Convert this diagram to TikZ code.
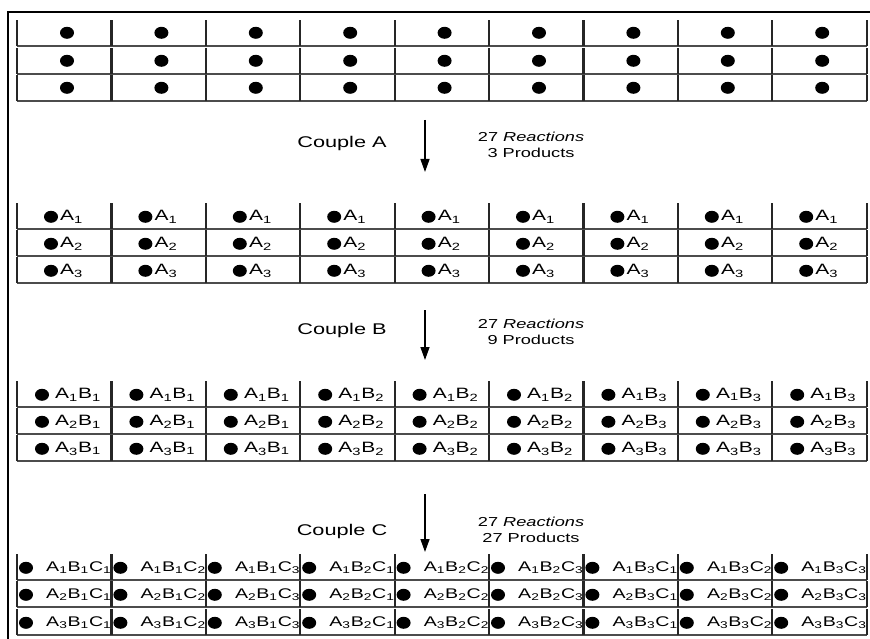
\documentclass[tikz,border=0pt]{standalone}
\usepackage{fontspec}
\usepackage{graphicx}
\setmainfont{Liberation Sans}
\usetikzlibrary{arrows.meta}
\tikzset{
  frame/.style   = {line width=2.6pt},
  cellbox/.style = {minimum width=94.4pt, minimum height=26pt, inner sep=0pt, anchor=south west},
  bar/.style     = {line width=2.2pt, black!85},
  rule/.style    = {line width=1.3pt, black!70},
  bead/.style    = {fill=black},
  lbl/.style     = {font=\fontsize{15}{17}\selectfont, inner sep=0pt, anchor=west},
  small lbl/.style = {lbl, font=\fontsize{14}{16}\selectfont},
  couple/.style  = {font=\fontsize{15.5}{18}\selectfont},
  tally/.style   = {font=\fontsize{13}{16}\selectfont, align=center},
  flow/.style    = {-{Triangle[length=13pt, width=9pt]}, line width=1.4pt},
}
\newcommand{\sub}[1]{\textsubscript{#1}}
\newcommand{\wide}[1]{\scalebox{1.4}[1]{#1}}

\begin{document}
\begin{tikzpicture}[x=1pt, y=-1pt]
    \useasboundingbox (0,0) rectangle (870,639);
    \draw[frame] (8,639) -- (8,12) -- (870,12);

    % beads
    \foreach \r/\yb in {1/46, 2/74, 3/101} {
      \foreach \c in {0,...,8} {
        \node[cellbox] (beads-\r-\c) at ({17+94.4*\c},\yb) {};
        \draw[rule] (beads-\r-\c.south west) -- (beads-\r-\c.south east);
        \draw[bar] (beads-\r-\c.south west) -- (beads-\r-\c.north west);
        \fill[bead] ([xshift=50pt]beads-\r-\c.west) ellipse [x radius=7pt, y radius=6pt];
      }
      \draw[bar] (beads-\r-8.south east) -- (beads-\r-8.north east);
    }

    \coordinate (A top) at (425,120);
    \coordinate (A tip) at (425,172);
    \draw[flow] (A top) -- (A tip);
    \node[couple] (couple A) at (342,143) {\wide{Couple A}};
    \node[tally] (tally A) at (531,145) {\wide{27 \textit{Reactions}}\\\wide{3 Products}};

    % after A
    \foreach \r/\yb in {1/229, 2/256, 3/283} {
      \foreach \c in {0,...,8} {
        \node[cellbox] (a-\r-\c) at ({17+94.4*\c},\yb) {};
        \draw[rule] (a-\r-\c.south west) -- (a-\r-\c.south east);
        \draw[bar] (a-\r-\c.south west) -- (a-\r-\c.north west);
        \fill[bead] ([shift={(34pt,-1pt)}]a-\r-\c.west) ellipse [x radius=7pt, y radius=6pt];
        \node[lbl] (a-lbl-\r-\c) at ([shift={(43pt,-1pt)}]a-\r-\c.west) {\wide{A\sub{\r}}};
      }
      \draw[bar] (a-\r-8.south east) -- (a-\r-8.north east);
    }

    \coordinate (B top) at (425,310);
    \coordinate (B tip) at (425,360);
    \draw[flow] (B top) -- (B tip);
    \node[couple] (couple B) at (342,330) {\wide{Couple B}};
    \node[tally] (tally B) at (531,332) {\wide{27 \textit{Reactions}}\\\wide{9 Products}};

    % after B
    \foreach \r/\yb in {1/407, 2/434, 3/461} {
      \foreach \c in {0,...,8} {
        \pgfmathtruncatemacro{\bi}{int(\c/3)+1}
        \node[cellbox] (ab-\r-\c) at ({17+94.4*\c},\yb) {};
        \draw[rule] (ab-\r-\c.south west) -- (ab-\r-\c.south east);
        \draw[bar] (ab-\r-\c.south west) -- (ab-\r-\c.north west);
        \fill[bead] ([shift={(25pt,-1pt)}]ab-\r-\c.west) ellipse [x radius=7pt, y radius=6pt];
        \node[lbl] (ab-lbl-\r-\c) at ([shift={(38pt,-1pt)}]ab-\r-\c.west) {\wide{A\sub{\r}B\sub{\bi}}};
      }
      \draw[bar] (ab-\r-8.south east) -- (ab-\r-8.north east);
    }

    \coordinate (C top) at (425,494);
    \coordinate (C tip) at (425,552);
    \draw[flow] (C top) -- (C tip);
    \node[couple] (couple C) at (342,531) {\wide{Couple C}};
    \node[tally] (tally C) at (531,530) {\wide{27 \textit{Reactions}}\\\wide{27 Products}};

    % after C
    \foreach \r/\yb in {1/580, 2/607, 3/635} {
      \foreach \c in {0,...,8} {
        \pgfmathtruncatemacro{\bi}{int(\c/3)+1}
        \pgfmathtruncatemacro{\ci}{mod(\c,3)+1}
        \node[cellbox] (abc-\r-\c) at ({17+94.4*\c},\yb) {};
        \draw[rule] (abc-\r-\c.south west) -- (abc-\r-\c.south east);
        \draw[bar] (abc-\r-\c.south west) -- (abc-\r-\c.north west);
        \fill[bead] ([shift={(9pt,-1pt)}]abc-\r-\c.west) ellipse [x radius=7pt, y radius=6pt];
        \node[small lbl] (abc-lbl-\r-\c) at ([shift={(29pt,-1pt)}]abc-\r-\c.west) {\wide{A\sub{\r}B\sub{\bi}C\sub{\ci}}};
      }
      \draw[bar] (abc-\r-8.south east) -- (abc-\r-8.north east);
    }
  \end{tikzpicture}
\end{document}
